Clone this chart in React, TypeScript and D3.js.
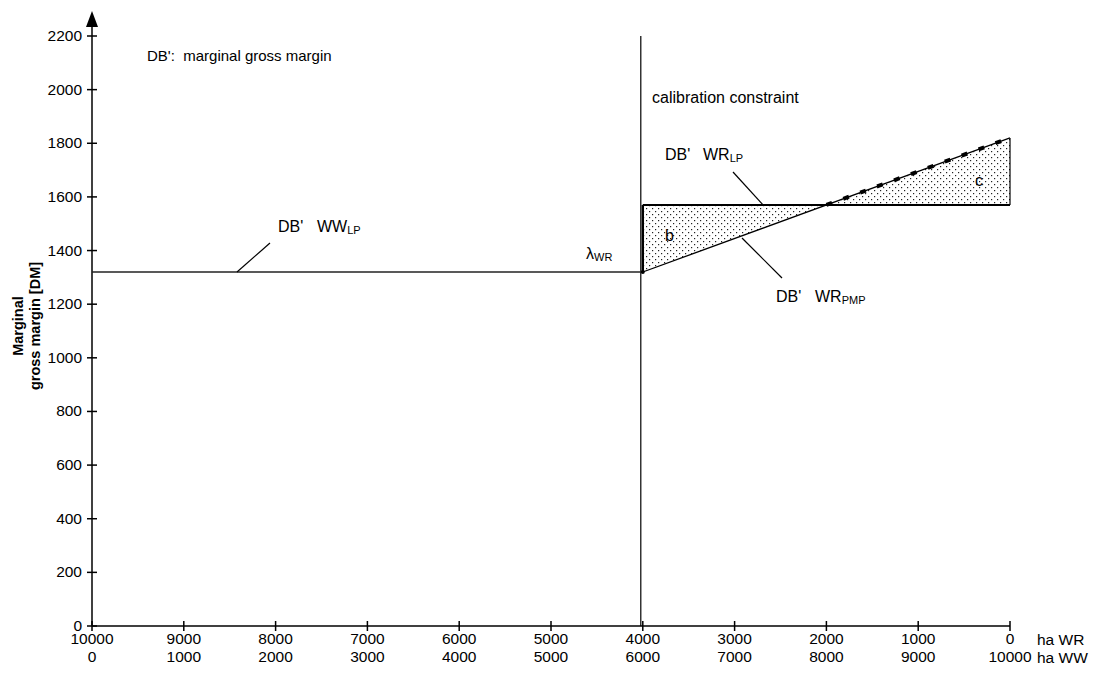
import * as d3 from 'd3'
import React from 'react'

// axis values
const yTicks = [0, 200, 400, 600, 800, 1000, 1200, 1400, 1600, 1800, 2000, 2200]
const wrTicks = [10000, 9000, 8000, 7000, 6000, 5000, 4000, 3000, 2000, 1000, 0]
const wwTicks = [0, 1000, 2000, 3000, 4000, 5000, 6000, 7000, 8000, 9000, 10000]

// curves (x in ha WR, value in DM)
const calibrationWR = 4000
const wwLP = [{ wr: 10000, v: 1320 }, { wr: 4000, v: 1320 }]
const wrLP = [{ wr: 4000, v: 1570 }, { wr: 0, v: 1570 }]
const wrPMP = [{ wr: 4000, v: 1320 }, { wr: 0, v: 1820 }]

const font = '"Liberation Sans", Arial, Helvetica, sans-serif'

export default function App() {
    const x = d3.scaleLinear().domain([10000, 0]).range([92, 1010])
    const y = d3.scaleLinear().domain([0, 2200]).range([626, 36])

    const line = d3.line<{ wr: number, v: number }>()
        .x(d => x(d.wr))
        .y(d => y(d.v))

    // where the PMP line crosses the LP level
    const slope = (wrPMP[1].v - wrPMP[0].v) / (wrPMP[1].wr - wrPMP[0].wr)
    const crossWR = wrPMP[0].wr + (wrLP[0].v - wrPMP[0].v) / slope
    const pmpAt = (wr: number) => wrPMP[0].v + slope * (wr - wrPMP[0].wr)

    const areaB = [
        { wr: calibrationWR, v: wrLP[0].v },
        { wr: crossWR, v: wrLP[0].v },
        { wr: calibrationWR, v: pmpAt(calibrationWR) },
    ]
    const areaC = [
        { wr: crossWR, v: wrLP[0].v },
        { wr: 0, v: pmpAt(0) },
        { wr: 0, v: wrLP[0].v },
    ]
    const poly = (pts: { wr: number, v: number }[]) =>
        pts.map(p => `${x(p.wr)},${y(p.v)}`).join(' ')

    return (
        <svg width={1100} height={676} style={{ position: 'absolute', left: 0, top: 0, background: '#fff' }}
            fontFamily={font} fontSize={16}>
            <defs>
                <pattern id="dots" width={6} height={6} patternUnits="userSpaceOnUse">
                    <rect x={1} y={1} width={1.2} height={1.2} fill="#222" />
                    <rect x={4} y={4} width={1.2} height={1.2} fill="#222" />
                </pattern>
            </defs>

            {/* shaded areas */}
            <polygon points={poly(areaB)} fill="url(#dots)" />
            <polygon points={poly(areaC)} fill="url(#dots)" />

            {/* y axis */}
            <line x1={x(10000)} x2={x(10000)} y1={y(0)} y2={22} stroke="#000" strokeWidth={1.5} />
            <polygon points={`${x(10000) - 6},27 ${x(10000) + 6},27 ${x(10000)},11`} fill="#000" />
            {yTicks.map(t => (
                <g key={t}>
                    <line x1={x(10000) - 5} x2={x(10000) + 5} y1={y(t)} y2={y(t)} stroke="#000" strokeWidth={1.5} />
                    <text x={82} y={y(t) + 5} textAnchor="end" fontSize={15.5}>{t}</text>
                </g>
            ))}

            {/* x axis */}
            <line x1={x(10000)} x2={x(0)} y1={y(0)} y2={y(0)} stroke="#000" strokeWidth={1.5} />
            {wrTicks.map((t, i) => (
                <g key={t} fontSize={15.5}>
                    <line x1={x(t)} x2={x(t)} y1={y(0) - 5} y2={y(0) + 5} stroke="#000" strokeWidth={1.5} />
                    <text x={x(t)} y={y(0) + 18} textAnchor="middle">{t}</text>
                    <text x={x(t)} y={y(0) + 36} textAnchor="middle">{wwTicks[i]}</text>
                </g>
            ))}
            <text x={1037} y={y(0) + 19} fontSize={15.5}>ha WR</text>
            <text x={1037} y={y(0) + 37} fontSize={15.5}>ha WW</text>

            {/* y label */}
            <g transform={`translate(23, 326) rotate(-90)`} fontWeight="bold" fontSize={14.5}>
                <text x={0} y={0} textAnchor="middle">Marginal</text>
                <text x={0} y={17} textAnchor="middle">gross margin [DM]</text>
            </g>

            {/* calibration constraint */}
            <line x1={x(calibrationWR) - 2} x2={x(calibrationWR) - 2} y1={y(0)} y2={y(2200)} stroke="#000" strokeWidth={1.2} />

            {/* curves */}
            <path d={line(wwLP)!} fill="none" stroke="#222" strokeWidth={1.4} />
            <path d={line(wrLP)!} fill="none" stroke="#000" strokeWidth={2} />
            <line x1={x(calibrationWR)} x2={x(calibrationWR)} y1={y(wwLP[1].v)} y2={y(wrLP[0].v)} stroke="#000" strokeWidth={2.4} />
            <path d={line(wrPMP)!} fill="none" stroke="#000" strokeWidth={1.3} />
            <path d={line([{ wr: crossWR, v: pmpAt(crossWR) }, wrPMP[1]])!} fill="none" stroke="#000" strokeWidth={4} strokeDasharray="6 12" />
            <line x1={x(0)} x2={x(0)} y1={y(wrLP[0].v)} y2={y(pmpAt(0))} stroke="#000" strokeWidth={1.2} />
            <circle cx={x(calibrationWR)} cy={y(wwLP[1].v)} r={2} fill="#000" />

            {/* labels */}
            <text x={147} y={61} fontSize={15} style={{ whiteSpace: 'pre' }}>DB':  marginal gross margin</text>
            <text x={652} y={103}>calibration constraint</text>

            <line x1={237} x2={270} y1={y(1320)} y2={243} stroke="#000" strokeWidth={1.2} />
            <text x={278} y={232}>DB'</text>
            <text x={317} y={232}>WW<tspan fontSize={11} dy={2}>LP</tspan></text>

            <line x1={733} x2={763} y1={172} y2={y(1570)} stroke="#000" strokeWidth={1.2} />
            <text x={665} y={160}>DB'</text>
            <text x={703} y={160}>WR<tspan fontSize={11} dy={2}>LP</tspan></text>

            <line x1={742} x2={782} y1={238} y2={278} stroke="#000" strokeWidth={1.2} />
            <text x={776} y={302}>DB'</text>
            <text x={815} y={302}>WR<tspan fontSize={11} dy={2}>PMP</tspan></text>

            <text x={586} y={259}>λ<tspan fontSize={11} dy={2}>WR</tspan></text>
            <text x={665} y={241}>b</text>
            <text x={975} y={186}>c</text>
        </svg>
    )
}
